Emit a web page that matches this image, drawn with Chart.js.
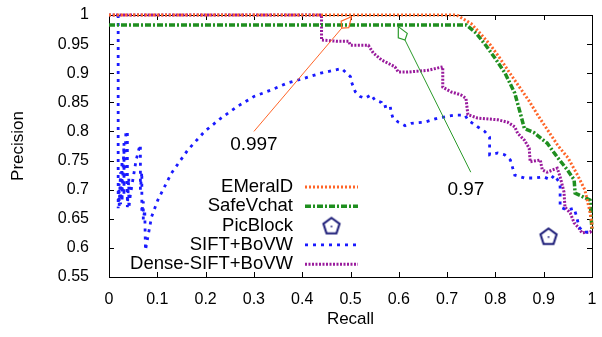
<!DOCTYPE html>
<html>
<head>
<meta charset="utf-8">
<script src="https://cdn.jsdelivr.net/npm/chart.js@4.4.1/dist/chart.umd.min.js"></script>
<style>
html, body { margin: 0; padding: 0; background: #fff; }
#wrap { width: 602px; height: 337px; }
</style>
</head>
<body>
<div id="wrap"><canvas id="prChart" width="602" height="337"></canvas></div>
<script>
const xTickValues = [0, 0.1, 0.2, 0.3, 0.4, 0.5, 0.6, 0.7, 0.8, 0.9, 1];
const yTickValues = [0.55, 0.6, 0.65, 0.7, 0.75, 0.8, 0.85, 0.9, 0.95, 1];

const seriesNames = ['EMeralD', 'SafeVchat', 'PicBlock', 'SIFT+BoVW', 'Dense-SIFT+BoVW'];

const emeraldRecall = [0, 0.72, 0.75, 0.77, 0.79, 0.81, 0.83, 0.85, 0.87, 0.89, 0.91, 0.93, 0.95, 0.97, 0.985, 0.995, 1.0, 1.0];
const emeraldPrecision = [1, 1, 0.985, 0.967, 0.948, 0.925, 0.9, 0.876, 0.852, 0.825, 0.8, 0.775, 0.755, 0.725, 0.7, 0.665, 0.64, 0.63];

const safeRecall = [0, 0.74, 0.76, 0.78, 0.8, 0.82, 0.84, 0.852, 0.86, 0.88, 0.907, 0.928, 0.949, 0.963, 0.965, 0.983, 0.996, 1.0];
const safePrecision = [0.983, 0.983, 0.969, 0.948, 0.925, 0.9, 0.866, 0.83, 0.805, 0.798, 0.78, 0.756, 0.734, 0.717, 0.694, 0.687, 0.682, 0.63];

const picRecall = [0.91];
const picPrecision = [0.62];

const siftRecall = [0.019, 0.019, 0.021, 0.021, 0.024, 0.024, 0.027, 0.027, 0.031, 0.031, 0.035, 0.038, 0.038, 0.041, 0.041, 0.044, 0.05, 0.056, 0.062, 0.065, 0.065, 0.068, 0.068, 0.071, 0.071, 0.074, 0.0755,
    0.088, 0.101, 0.129, 0.163, 0.198, 0.232, 0.266, 0.3, 0.335, 0.369, 0.403, 0.438, 0.482,
    0.492, 0.5, 0.502, 0.51, 0.52, 0.53, 0.543, 0.55, 0.564, 0.568, 0.582, 0.584, 0.588, 0.599, 0.613, 0.626, 0.654, 0.681, 0.716, 0.737,
    0.743, 0.763, 0.778, 0.788, 0.788, 0.805, 0.819, 0.831, 0.84, 0.86, 0.88, 0.9, 0.914, 0.922, 0.932, 0.934, 0.934, 0.949, 0.963,
    0.969, 0.973, 0.983, 0.996, 1.0];
const siftPrecision = [1.0, 0.668, 0.71, 0.672, 0.73, 0.675, 0.75, 0.68, 0.78, 0.69, 0.8, 0.8, 0.67, 0.72, 0.668, 0.69, 0.72, 0.75, 0.77, 0.777, 0.7, 0.73, 0.66, 0.68, 0.648, 0.665, 0.596,
    0.653, 0.682, 0.728, 0.768, 0.8, 0.823, 0.843, 0.86, 0.871, 0.883, 0.891, 0.9, 0.908,
    0.9, 0.894, 0.885, 0.868, 0.86, 0.857, 0.863, 0.854, 0.85, 0.842, 0.845, 0.833, 0.823, 0.816, 0.81, 0.814, 0.816, 0.823, 0.828, 0.828,
    0.82, 0.808, 0.8, 0.79, 0.76, 0.763, 0.76, 0.751, 0.725, 0.72, 0.72, 0.722, 0.717, 0.725, 0.713, 0.705, 0.67, 0.665, 0.668,
    0.651, 0.636, 0.627, 0.627, 0.63];

const denseRecall = [0, 0.44, 0.44, 0.47, 0.496, 0.5, 0.537, 0.547, 0.564, 0.592, 0.599, 0.619, 0.66, 0.691, 0.691, 0.708, 0.728, 0.739,
    0.743, 0.763, 0.805, 0.825, 0.84, 0.846, 0.86, 0.87, 0.872, 0.893, 0.897, 0.907, 0.928, 0.934, 0.942, 0.944, 0.955, 0.963,
    0.973, 0.979, 0.996, 1.0];
const densePrecision = [1, 1, 0.957, 0.955, 0.955, 0.948, 0.948, 0.935, 0.923, 0.911, 0.902, 0.902, 0.905, 0.911, 0.876, 0.868, 0.863, 0.857,
    0.829, 0.823, 0.82, 0.816, 0.808, 0.797, 0.785, 0.771, 0.748, 0.751, 0.734, 0.73, 0.737, 0.722, 0.696, 0.67, 0.66, 0.643,
    0.634, 0.626, 0.627, 0.63];

// arrow notes: label, tail point, head point, label position (all in data units)
const noteLabels = ['0.997', '0.97'];
const noteTail = [[0.3, 0.8], [0.749, 0.73]];
const noteHead = [[0.502, 0.997], [0.599, 0.98]];
const noteText = [[0.3, 0.777], [0.739, 0.7]];

const FONT = '"Liberation Sans", Arial, Helvetica, sans-serif';
const ORANGE = '#ff6528';
const GREEN = '#1f8f1f';
const NAVY = '#1c1c78';
const BLUE = '#1a1aff';
const PURPLE = '#991a9c';

function toPoints(rs, ps) {
    return rs.map(function (r, i) { return { x: r, y: ps[i] }; });
}

function makePentagon(color) {
    const c = document.createElement('canvas');
    c.width = 22;
    c.height = 22;
    const g = c.getContext('2d');
    g.strokeStyle = color;
    g.lineWidth = 2;
    g.beginPath();
    for (let i = 0; i < 5; i++) {
        const a = -Math.PI / 2 + i * 2 * Math.PI / 5;
        const px = 11 + 8.5 * Math.cos(a);
        const py = 11.8 + 8.5 * Math.sin(a);
        if (i === 0) g.moveTo(px, py); else g.lineTo(px, py);
    }
    g.closePath();
    g.stroke();
    g.fillStyle = color;
    g.fillRect(10.2, 11, 1.6, 1.6);
    return c;
}
const pentagon = makePentagon(NAVY);

const framePlugin = {
    id: 'frame',
    beforeDatasetsDraw(chart) {
        const ctx = chart.ctx;
        const a = chart.chartArea;
        const xs = chart.scales.x;
        const ys = chart.scales.y;
        ctx.save();
        ctx.strokeStyle = '#000';
        ctx.lineWidth = 1;
        ctx.beginPath();
        xTickValues.forEach(function (v) {
            const px = Math.round(xs.getPixelForValue(v)) + 0.5;
            ctx.moveTo(px, a.bottom); ctx.lineTo(px, a.bottom - 5);
            ctx.moveTo(px, a.top); ctx.lineTo(px, a.top + 5);
        });
        yTickValues.forEach(function (v) {
            const py = Math.round(ys.getPixelForValue(v)) + 0.5;
            ctx.moveTo(a.left, py); ctx.lineTo(a.left + 5, py);
            ctx.moveTo(a.right, py); ctx.lineTo(a.right - 5, py);
        });
        ctx.stroke();
        ctx.strokeRect(Math.round(a.left) + 0.5, Math.round(a.top) + 0.5, Math.round(a.right - a.left), Math.round(a.bottom - a.top));
        ctx.restore();
    }
};

function drawArrow(ctx, x0, y0, x1, y1, color) {
    const ang = Math.atan2(y1 - y0, x1 - x0);
    const cos = Math.cos(ang), sin = Math.sin(ang);
    const len = 15, wing = 10, half = 5;
    const bx = x1 - cos * len, by = y1 - sin * len;
    ctx.strokeStyle = color;
    ctx.lineWidth = 1;
    ctx.beginPath();
    ctx.moveTo(x0, y0);
    ctx.lineTo(bx, by);
    ctx.stroke();
    ctx.beginPath();
    ctx.moveTo(x1, y1);
    ctx.lineTo(x1 - cos * wing - sin * half, y1 - sin * wing + cos * half);
    ctx.lineTo(bx, by);
    ctx.lineTo(x1 - cos * wing + sin * half, y1 - sin * wing - cos * half);
    ctx.closePath();
    ctx.lineWidth = 1.2;
    ctx.stroke();
}

const notesPlugin = {
    id: 'notes',
    afterDatasetsDraw(chart) {
        const ctx = chart.ctx;
        const xs = chart.scales.x;
        const ys = chart.scales.y;
        const colors = [ORANGE, '#2a9a2a'];
        ctx.save();
        noteLabels.forEach(function (label, i) {
            drawArrow(ctx,
                xs.getPixelForValue(noteTail[i][0]), ys.getPixelForValue(noteTail[i][1]),
                xs.getPixelForValue(noteHead[i][0]), ys.getPixelForValue(noteHead[i][1]), colors[i]);
            ctx.fillStyle = '#000';
            ctx.font = '19px ' + FONT;
            ctx.textAlign = 'center';
            ctx.textBaseline = 'middle';
            ctx.fillText(label, xs.getPixelForValue(noteText[i][0]), ys.getPixelForValue(noteText[i][1]));
        });
        ctx.restore();
    }
};

const legendPlugin = {
    id: 'keyBox',
    afterDatasetsDraw(chart) {
        const ctx = chart.ctx;
        const a = chart.chartArea;
        const textRight = a.left + 184;
        const lineStart = a.left + 196;
        const lineEnd = a.left + 249;
        ctx.save();
        ctx.font = '18.5px ' + FONT;
        ctx.textAlign = 'right';
        ctx.textBaseline = 'middle';
        chart.data.datasets.forEach(function (ds, i) {
            const y = a.top + 172 + i * 19.3;
            ctx.fillStyle = '#000';
            ctx.fillText(ds.label, textRight, y);
            if (ds.showLine === false) {
                ctx.drawImage(pentagon, (lineStart + lineEnd) / 2 - pentagon.width / 2, y - pentagon.height / 2);
            } else {
                ctx.strokeStyle = ds.borderColor;
                ctx.lineWidth = ds.borderWidth;
                ctx.setLineDash(ds.borderDash || []);
                ctx.beginPath();
                ctx.moveTo(lineStart, y);
                ctx.lineTo(lineEnd, y);
                ctx.stroke();
                ctx.setLineDash([]);
            }
        });
        ctx.restore();
    }
};

function lineSet(label, rs, ps, color, width, dash) {
    return {
        label: label,
        data: toPoints(rs, ps),
        borderColor: color,
        backgroundColor: color,
        borderWidth: width,
        borderDash: dash,
        pointRadius: 0,
        tension: 0,
        fill: false,
        clip: 6
    };
}

function noScalePadding(scale) {
    scale.paddingTop = 0;
    scale.paddingBottom = 0;
    scale.paddingLeft = 0;
    scale.paddingRight = 0;
}

Chart.defaults.font.family = FONT;
Chart.defaults.color = '#000';

new Chart(document.getElementById('prChart'), {
    type: 'scatter',
    data: {
        datasets: [
            lineSet(seriesNames[0], emeraldRecall, emeraldPrecision, ORANGE, 3, [2, 2]),
            lineSet(seriesNames[1], safeRecall, safePrecision, GREEN, 3.5, [6, 2, 2, 2]),
            {
                label: seriesNames[2],
                data: toPoints(picRecall, picPrecision),
                showLine: false,
                pointStyle: pentagon,
                pointRadius: 9,
                borderColor: NAVY,
                backgroundColor: NAVY
            },
            lineSet(seriesNames[3], siftRecall, siftPrecision, BLUE, 2.8, [3, 5]),
            lineSet(seriesNames[4], denseRecall, densePrecision, PURPLE, 3, [2, 1.5])
        ]
    },
    options: {
        responsive: false,
        animation: false,
        devicePixelRatio: 1,
        showLine: true,
        layout: { padding: { top: 15, right: 6, left: 0, bottom: 0 } },
        plugins: {
            legend: { display: false },
            tooltip: { enabled: false }
        },
        scales: {
            x: {
                type: 'linear',
                min: 0,
                max: 1,
                afterBuildTicks: function (scale) {
                    scale.ticks = xTickValues.map(function (v) { return { value: v }; });
                },
                afterFit: function (scale) { scale.height = 60; noScalePadding(scale); },
                grid: { display: false, drawTicks: false },
                border: { display: false },
                ticks: {
                    padding: 13,
                    font: { size: 16 },
                    callback: function (v) { return String(+v.toFixed(2)); }
                },
                title: {
                    display: true,
                    text: 'Recall',
                    font: { size: 17 },
                    padding: { top: 0, bottom: 7 }
                }
            },
            y: {
                type: 'linear',
                min: 0.55,
                max: 1,
                afterBuildTicks: function (scale) {
                    scale.ticks = yTickValues.map(function (v) { return { value: v }; });
                },
                afterFit: function (scale) { scale.width = 109; noScalePadding(scale); },
                grid: { display: false, drawTicks: false },
                border: { display: false },
                ticks: {
                    padding: 20,
                    font: { size: 16 },
                    callback: function (v) { return String(+v.toFixed(2)); }
                },
                title: {
                    display: true,
                    text: 'Precision',
                    font: { size: 17 },
                    padding: { top: 8, bottom: 0 }
                }
            }
        }
    },
    plugins: [framePlugin, notesPlugin, legendPlugin]
});
</script>
</body>
</html>
